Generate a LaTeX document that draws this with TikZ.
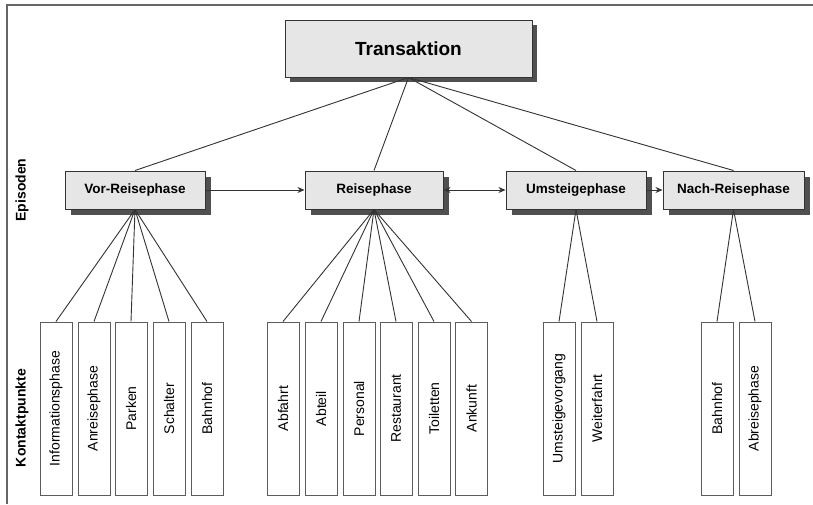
\documentclass[tikz,border=0pt]{standalone}
\usepackage{fontspec}
\setmainfont{Liberation Sans}
\usetikzlibrary{shadows,arrows.meta}
\definecolor{boxfill}{HTML}{E6E6E6}
\definecolor{shadowc}{HTML}{505050}
\definecolor{linec}{HTML}{333333}
\tikzset{
  topbox/.style={draw=linec, line width=1pt, fill=boxfill, minimum width=247pt, minimum height=57pt, inner sep=0pt,
    general shadow={fill=shadowc, shadow xshift=5pt, shadow yshift=-5pt},
    font=\fontsize{19}{21}\selectfont\bfseries},
  epbox/.style={draw=linec, line width=1pt, fill=boxfill, minimum height=38pt, inner sep=0pt,
    general shadow={fill=shadowc, shadow xshift=6pt, shadow yshift=-6pt},
    font=\fontsize{13.5}{15}\selectfont\bfseries},
  leaf/.style={draw=linec!80, line width=1pt, fill=white, minimum width=32pt, minimum height=173pt, inner sep=0pt},
  leaftext/.style={rotate=90, font=\fontsize{14}{16}\selectfont, text=black},
  side/.style={rotate=90, font=\fontsize{14}{16}\selectfont\bfseries},
  conn/.style={draw=linec, line width=0.9pt},
  arr/.style={conn, -{Stealth[length=7pt,width=6pt]}},
  darr/.style={conn, {Stealth[length=7pt,width=6pt]}-{Stealth[length=7pt,width=6pt]}},
}
\begin{document}
\begin{tikzpicture}[x=1pt,y=-1pt]
\useasboundingbox (0,0) rectangle (813,504);
\fill[white] (0,0) rectangle (813,504);
\draw[line width=1.3pt, draw=gray!80!black] (7,504) -- (7,5) -- (813,5);

\node[side] (sepi) at (22,190) {Episoden};
\node[side] (skon) at (22,418) {Kontaktpunkte};

\node[topbox] (t) at (408.5,48.5) {Transaktion};

\node[epbox, minimum width=140pt] (vor) at (135,190) {Vor-Reisephase};
\node[epbox, minimum width=138pt] (rei) at (374,190) {Reisephase};
\node[epbox, minimum width=140pt] (ums) at (576,190) {Umsteigephase};
\node[epbox, minimum width=141pt] (nach) at (733.5,190) {Nach-Reisephase};

\draw[conn] (t.south) -- (vor.north);
\draw[conn] (t.south) -- (rei.north);
\draw[conn] (t.south) -- (ums.north);
\draw[conn] (t.south) -- (nach.north);

\draw[arr] (vor.east) -- (rei.west);
\draw[darr] (rei.east) -- (ums.west);
\draw[arr] (ums.east) -- (nach.west);

% leaves
\foreach \n/\x/\t in {a1/56/Informationsphase, a2/94/Anreisephase, a3/131/Parken, a4/169/Schalter, a5/207/Bahnhof,
  b1/283/Abfahrt, b2/321/Abteil, b3/359/Personal, b4/396/Restaurant, b5/434/Toiletten, b6/471.5/Ankunft,
  c1/559/Umsteigevorgang, c2/597/Weiterfahrt, d1/717/Bahnhof, d2/755/Abreisephase}{
  \node[leaf] (\n) at (\x,408.5) {};
  \node[leaftext] (\n t) at (\n) {\t};
}

\foreach \n in {a1,a2,a3,a4,a5}{\draw[conn] (vor.south) -- (\n.north);}
\foreach \n in {b1,b2,b3,b4,b5,b6}{\draw[conn] (rei.south) -- (\n.north);}
\foreach \n in {c1,c2}{\draw[conn] (ums.south) -- (\n.north);}
\foreach \n in {d1,d2}{\draw[conn] (nach.south) -- (\n.north);}
\end{tikzpicture}
\end{document}
